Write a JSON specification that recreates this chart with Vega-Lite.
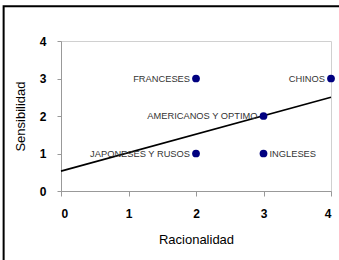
{
  "$schema": "https://vega.github.io/schema/vega-lite/v6.json",
  "width": 270,
  "height": 150,
  "autosize": "none",
  "padding": {"left": 61, "top": 41, "right": 8, "bottom": 69},
  "background": "white",
  "config": {
    "view": {"stroke": "#d0d0d0", "strokeWidth": 1},
    "font": "Liberation Sans"
  },
  "datasets": {
    "pts": [
      {"Racionalidad": 2, "Sensibilidad": 3, "pais": "FRANCESES", "lado": "izq"},
      {"Racionalidad": 4, "Sensibilidad": 3, "pais": "CHINOS", "lado": "izq"},
      {"Racionalidad": 3, "Sensibilidad": 2, "pais": "AMERICANOS Y OPTIMO", "lado": "izq"},
      {"Racionalidad": 2, "Sensibilidad": 1, "pais": "JAPONESES Y RUSOS", "lado": "izq"},
      {"Racionalidad": 3, "Sensibilidad": 1, "pais": "INGLESES", "lado": "der"}
    ],
    "trend": [
      {"Racionalidad": 0, "Sensibilidad": 0.53},
      {"Racionalidad": 4, "Sensibilidad": 2.5}
    ],
    "frame": [
      {"Racionalidad": -0.85, "x2": 4.5, "Sensibilidad": 4.93, "y2": -2.5}
    ]
  },
  "encoding": {
    "x": {
      "field": "Racionalidad", "type": "quantitative",
      "scale": {"domain": [0, 4], "nice": false, "zero": false},
      "axis": {
        "values": [0, 1, 2, 3, 4], "format": "d", "grid": false, "labelOverlap": false,
        "domainColor": "#999999", "tickColor": "#999999", "tickSize": 5,
        "labelFontSize": 12, "labelColor": "black", "labelPadding": 12, "labelFontWeight": "bold",
        "titleFontSize": 13, "titleFontWeight": "normal", "titleColor": "black", "titlePadding": 14,
        "title": "Racionalidad"
      }
    },
    "y": {
      "field": "Sensibilidad", "type": "quantitative",
      "scale": {"domain": [0, 4], "nice": false, "zero": false},
      "axis": {
        "values": [0, 1, 2, 3, 4], "format": "d", "grid": false, "labelOverlap": false,
        "domainColor": "#999999", "tickColor": "#999999", "tickSize": 4,
        "labelFontSize": 12, "labelColor": "black", "labelPadding": 11, "labelFontWeight": "bold",
        "titleFontSize": 13, "titleFontWeight": "normal", "titleColor": "black", "titlePadding": 12,
        "title": "Sensibilidad"
      }
    }
  },
  "layer": [
    {
      "data": {"name": "trend"},
      "mark": {"type": "line", "color": "black", "strokeWidth": 1.6}
    },
    {
      "data": {"name": "pts"},
      "mark": {"type": "point", "filled": true, "color": "#000080", "opacity": 1, "size": 60}
    },
    {
      "data": {"name": "pts"},
      "transform": [{"filter": "datum.lado == 'izq'"}],
      "mark": {"type": "text", "align": "right", "baseline": "middle", "dx": -6, "fontSize": 9.3, "color": "#333333"},
      "encoding": {"text": {"field": "pais"}}
    },
    {
      "data": {"name": "pts"},
      "transform": [{"filter": "datum.lado == 'der'"}],
      "mark": {"type": "text", "align": "left", "baseline": "middle", "dx": 6, "fontSize": 9.3, "color": "#333333"},
      "encoding": {"text": {"field": "pais"}}
    },
    {
      "data": {"name": "frame"},
      "mark": {"type": "rect", "fill": null, "stroke": "black", "strokeWidth": 2, "clip": false},
      "encoding": {
        "x2": {"field": "x2"},
        "y2": {"field": "y2"}
      }
    }
  ]
}
